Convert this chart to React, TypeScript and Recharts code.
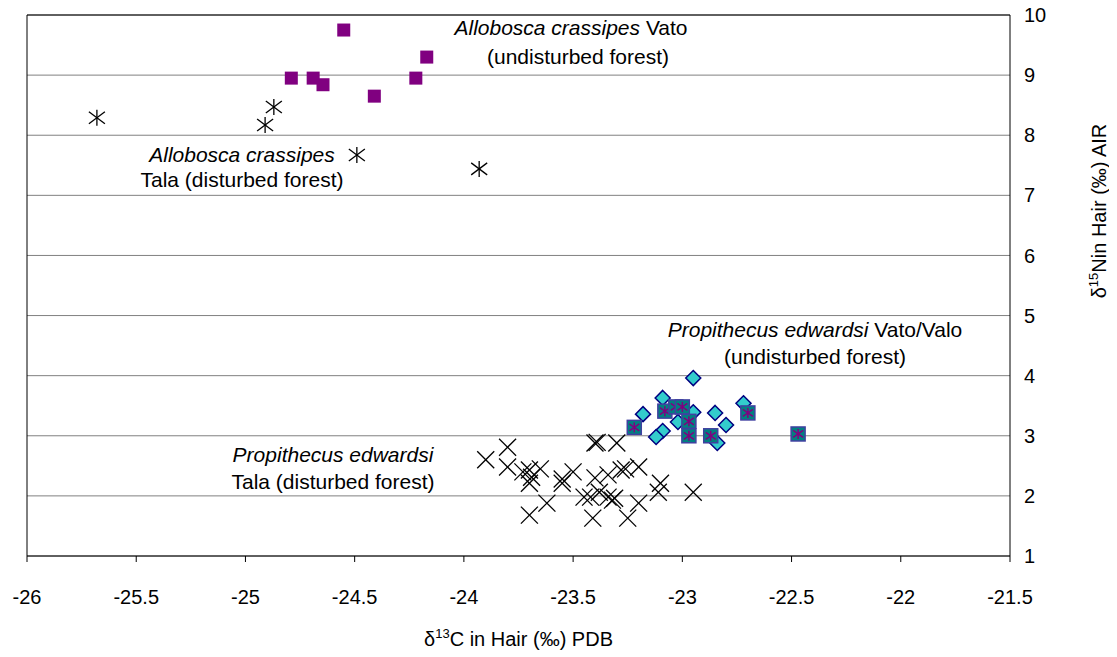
import React from 'react'
import {
  ScatterChart,
  Scatter,
  XAxis,
  YAxis,
  CartesianGrid,
  ReferenceLine,
  Label,
} from 'recharts'

// d13C (x) vs d15N (y) in hair
const alloboscaVato = [
  { x: -24.55, y: 9.75 },
  { x: -24.17, y: 9.3 },
  { x: -24.79, y: 8.95 },
  { x: -24.69, y: 8.95 },
  { x: -24.645, y: 8.84 },
  { x: -24.22, y: 8.95 },
  { x: -24.41, y: 8.65 },
]

const alloboscaTala = [
  { x: -25.68, y: 8.29 },
  { x: -24.87, y: 8.47 },
  { x: -24.91, y: 8.17 },
  { x: -24.49, y: 7.67 },
  { x: -23.93, y: 7.44 },
]

const propithecusVato = [
  { x: -22.95, y: 3.96 },
  { x: -23.09, y: 3.63 },
  { x: -23.18, y: 3.36 },
  { x: -22.95, y: 3.39 },
  { x: -23.02, y: 3.23 },
  { x: -23.09, y: 3.08 },
  { x: -23.12, y: 2.98 },
  { x: -22.85, y: 3.38 },
  { x: -22.8, y: 3.18 },
  { x: -22.72, y: 3.54 },
  { x: -22.84, y: 2.88 },
]

const propithecusValo = [
  { x: -23.22, y: 3.14 },
  { x: -23.08, y: 3.41 },
  { x: -23.03, y: 3.48 },
  { x: -23.0, y: 3.48 },
  { x: -22.97, y: 3.24 },
  { x: -22.97, y: 3.0 },
  { x: -22.87, y: 3.0 },
  { x: -22.7, y: 3.38 },
  { x: -22.47, y: 3.03 },
]

const propithecusTala = [
  { x: -23.9, y: 2.6 },
  { x: -23.8, y: 2.81 },
  { x: -23.8, y: 2.48 },
  { x: -23.73, y: 2.4 },
  { x: -23.7, y: 2.43 },
  { x: -23.65, y: 2.45 },
  { x: -23.7, y: 2.21 },
  { x: -23.69, y: 2.31 },
  { x: -23.7, y: 1.68 },
  { x: -23.62, y: 1.88 },
  { x: -23.55, y: 2.28 },
  { x: -23.5, y: 2.4 },
  { x: -23.55, y: 2.21 },
  { x: -23.4, y: 2.88 },
  { x: -23.39, y: 2.89 },
  { x: -23.3, y: 2.88 },
  { x: -23.4, y: 2.3 },
  { x: -23.34, y: 2.35 },
  { x: -23.42, y: 1.98 },
  { x: -23.38, y: 2.06 },
  { x: -23.34, y: 1.98 },
  { x: -23.31, y: 1.96 },
  { x: -23.28, y: 2.43 },
  { x: -23.26, y: 2.45 },
  { x: -23.2, y: 2.48 },
  { x: -23.41, y: 1.63 },
  { x: -23.25, y: 1.63 },
  { x: -23.2, y: 1.88 },
  { x: -23.1, y: 2.21 },
  { x: -23.11, y: 2.06 },
  { x: -22.95, y: 2.06 },
  { x: -23.32, y: 1.93 },
  { x: -23.45, y: 1.98 },
]

const xTicks = [-26, -25.5, -25, -24.5, -24, -23.5, -23, -22.5, -22, -21.5]
const yTicks = [1, 2, 3, 4, 5, 6, 7, 8, 9, 10]

const FONT = '"Liberation Sans", Arial, sans-serif'

const PurpleSquare = (p: any) => (
  <rect x={p.cx - 6.5} y={p.cy - 6.5} width={13} height={13} fill="#800080" />
)

const Asterisk = (p: any) => {
  const { cx, cy } = p
  return (
    <g stroke="#000" strokeWidth={1.3}>
      <line x1={cx} y1={cy - 8} x2={cx} y2={cy + 8} />
      <line x1={cx - 8} y1={cy - 6} x2={cx + 8} y2={cy + 6} />
      <line x1={cx - 8} y1={cy + 6} x2={cx + 8} y2={cy - 6} />
    </g>
  )
}

const Cross = (p: any) => {
  const { cx, cy } = p
  return (
    <g stroke="#000" strokeWidth={1.3}>
      <line x1={cx - 8.5} y1={cy - 8.5} x2={cx + 8.5} y2={cy + 8.5} />
      <line x1={cx - 8.5} y1={cy + 8.5} x2={cx + 8.5} y2={cy - 8.5} />
    </g>
  )
}

const Diamond = (p: any) => {
  const { cx, cy } = p
  const r = 7.5
  return (
    <polygon
      points={`${cx},${cy - r} ${cx + r},${cy} ${cx},${cy + r} ${cx - r},${cy}`}
      fill="#33CCCC"
      stroke="#000080"
      strokeWidth={1.5}
    />
  )
}

const TealSquare = (p: any) => {
  const { cx, cy } = p
  return (
    <g>
      <rect x={cx - 7} y={cy - 7} width={14} height={14} fill="#008080" stroke="#4040A0" strokeWidth={1.5} />
      <g stroke="#800080" strokeWidth={1.5}>
        <line x1={cx} y1={cy - 5} x2={cx} y2={cy + 5} />
        <line x1={cx - 5} y1={cy - 3.5} x2={cx + 5} y2={cy + 3.5} />
        <line x1={cx - 5} y1={cy + 3.5} x2={cx + 5} y2={cy - 3.5} />
      </g>
    </g>
  )
}

const XTitle = (props: any) => {
  const vb = props.viewBox
  const cx = vb.x + vb.width / 2
  return (
    <text x={cx} y={646} textAnchor="middle" fontFamily={FONT} fontSize={20} fill="#000">
      δ<tspan fontSize={13} dy={-8}>13</tspan>
      <tspan dy={8}>C in Hair (‰) PDB</tspan>
    </text>
  )
}

const YTitle = () => {
  const x = 1098
  const y = 211
  return (
    <text
      x={x}
      y={y}
      textAnchor="middle"
      fontFamily={FONT}
      fontSize={20}
      fill="#000"
      transform={`rotate(-90 ${x} ${y})`}
    >
      δ<tspan fontSize={13} dy={-8}>15</tspan>
      <tspan dy={8}>Nin Hair (‰) AIR</tspan>
    </text>
  )
}

const note: React.CSSProperties = {
  position: 'absolute',
  fontFamily: FONT,
  fontSize: 21,
  lineHeight: '24px',
  width: 400,
  textAlign: 'center',
  whiteSpace: 'nowrap',
  color: '#000',
}

export default function App() {
  return (
    <div style={{ position: 'relative', width: 1101, height: 657, marginTop: -8 }}>
      <ScatterChart width={1101} height={657} margin={{ top: 15, right: 0, bottom: 0, left: 19 }}>
        <CartesianGrid vertical={false} stroke="#808080" />
        <XAxis
          type="number"
          dataKey="x"
          domain={[-26, -21.5]}
          ticks={xTicks}
          interval={0}
          height={101}
          stroke="#000"
          tickSize={6}
          tickMargin={28}
          tick={{ fill: '#000', fontSize: 20, fontFamily: FONT }}
        >
          <Label content={<XTitle />} />
        </XAxis>
        <YAxis
          type="number"
          dataKey="y"
          orientation="right"
          domain={[1, 10]}
          ticks={yTicks}
          interval={0}
          width={99}
          stroke="#000"
          tickLine={false}
          tickSize={0}
          tickMargin={14}
          tick={{ fill: '#000', fontSize: 20, fontFamily: FONT, textAnchor: 'start' }}
        >
          <Label content={<YTitle />} />
        </YAxis>
        <ReferenceLine y={10} stroke="#000" />
        <ReferenceLine x={-26} stroke="#000" />
        <Scatter data={propithecusTala} shape={Cross} isAnimationActive={false} />
        <Scatter data={alloboscaTala} shape={Asterisk} isAnimationActive={false} />
        <Scatter data={alloboscaVato} shape={PurpleSquare} isAnimationActive={false} />
        <Scatter data={propithecusVato} shape={Diamond} isAnimationActive={false} />
        <Scatter data={propithecusValo} shape={TealSquare} isAnimationActive={false} />
      </ScatterChart>

      <div style={{ ...note, left: 363, top: 16 }}>
        <i>Allobosca crassipes</i> Vato
      </div>
      <div style={{ ...note, left: 370, top: 45 }}>(undisturbed forest)</div>

      <div style={{ ...note, left: 34, top: 143 }}>
        <i>Allobosca crassipes</i>
      </div>
      <div style={{ ...note, left: 34, top: 168 }}>Tala (disturbed forest)</div>

      <div style={{ ...note, left: 607, top: 318 }}>
        <i>Propithecus edwardsi</i> Vato/Valo
      </div>
      <div style={{ ...note, left: 607, top: 345 }}>(undisturbed forest)</div>

      <div style={{ ...note, left: 125, top: 443 }}>
        <i>Propithecus edwardsi</i>
      </div>
      <div style={{ ...note, left: 125, top: 470 }}>Tala (disturbed forest)</div>
    </div>
  )
}
